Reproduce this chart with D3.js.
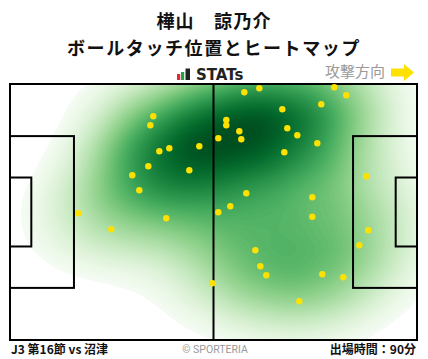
<!DOCTYPE html>
<html><head><meta charset="utf-8">
<script src="https://cdn.jsdelivr.net/npm/d3@7"></script>
<style>
html,body{margin:0;padding:0;background:#fff;}
svg{display:block;}
</style></head>
<body>
<script>
// ---- data (pitch metres, 105 x 68; x toward attack direction, y from top touchline) ----
const titleLines = ["樺山　諒乃介", "ボールタッチ位置とヒートマップ"];
const footerLeft = "J3 第16節 vs 沼津";
const footerRight = "出場時間：90分";
const touchX = [36.97,36.20,48.84,41.10,38.52,35.68,46.26,31.55,33.36,64.32,60.45,83.67,86.76,80.31,70.25,55.80,55.80,59.16,71.54,74.12,53.74,59.67,79.28,70.77,91.92,60.96,77.99,56.84,53.74,17.62,26.13,40.32,52.24,77.99,92.44,90.12,63.29,64.58,66.12,80.57,85.99,74.64];
const touchY = [8.58,10.97,16.55,17.08,17.88,21.86,22.92,24.25,28.24,1.14,2.20,0.88,3.00,5.39,6.72,9.56,10.97,12.56,11.77,13.63,14.42,14.69,15.75,18.14,24.52,29.03,30.10,32.49,34.08,34.35,38.60,35.67,52.94,35.25,38.86,42.85,44.17,48.42,50.81,50.55,51.35,57.72];

const W = 428, H = 359;
const F = {x0: 10, x1: 417, y0: 84, y1: 340};
const svg = d3.select("body").append("svg").attr("width", W).attr("height", H);

const xs = d3.scaleLinear().domain([0, 105]).range([F.x0, F.x1]);
const ys = d3.scaleLinear().domain([0, 68]).range([F.y0, F.y1]);
const pts = touchX.map((x, i) => ({x, y: touchY[i]}));

// ---- titles ----
const jp = "'Noto Sans CJK JP','Noto Sans',sans-serif";
svg.append("text").attr("x", W/2).attr("y", 28).attr("text-anchor", "middle").attr("letter-spacing", 1.2)
  .attr("font-family", jp).attr("font-weight", 700).attr("font-size", 18).attr("fill", "#111").text(titleLines[0]);
svg.append("text").attr("x", W/2).attr("y", 54.5).attr("text-anchor", "middle").attr("letter-spacing", 1.6)
  .attr("font-family", jp).attr("font-weight", 700).attr("font-size", 18).attr("fill", "#111").text(titleLines[1]);

// STATs logo
const logo = svg.append("g");
logo.append("rect").attr("x", 177).attr("y", 74).attr("width", 3.2).attr("height", 6).attr("fill", "#e8262b");
logo.append("rect").attr("x", 181).attr("y", 72).attr("width", 3.2).attr("height", 8).attr("fill", "#1fa347");
logo.append("rect").attr("x", 185.5).attr("y", 68.5).attr("width", 4.5).attr("height", 11.5).attr("fill", "#222");
logo.append("text").attr("x", 196).attr("y", 80).attr("font-family", "'DejaVu Sans',sans-serif")
  .attr("font-weight", 700).attr("font-size", 15).attr("fill", "#222").text("STATs");

// attack direction
svg.append("text").attr("x", 385).attr("y", 77).attr("text-anchor", "end")
  .attr("font-family", jp).attr("font-size", 15).attr("fill", "#9a9a9a").text("攻撃方向");
svg.append("path").attr("d", "M391,68.5 H404 V64 L414,72.5 L404,81 V76.5 H391 Z").attr("fill", "#ffe100");

// ---- heatmap ----
const defs = svg.append("defs");
defs.append("clipPath").attr("id", "fieldclip").append("rect")
  .attr("x", F.x0).attr("y", F.y0).attr("width", F.x1 - F.x0).attr("height", F.y1 - F.y0);

const pad = 100;
const bw = 44, ky = 44 / 35; // anisotropic kernel via y-stretch
const dens = d3.contourDensity()
  .x(d => xs(d.x) - F.x0 + pad)
  .y(d => (ys(d.y) - F.y0 + pad) * ky)
  .size([F.x1 - F.x0 + 2*pad, (F.y1 - F.y0 + 2*pad) * ky])
  .cellSize(2)
  .bandwidth(bw);
const probe = dens.thresholds(300)(pts);
const vmax = d3.max(probe.filter(c => c.coordinates.length), c => c.value);
const lo = vmax * 0.06;
const nLev = 80;
const th = d3.range(nLev).map(i => lo + (vmax - lo) * i / nLev);
const contours = dens.thresholds(th)(pts);
const tScale = d3.scalePow().exponent(0.75).domain([lo, vmax * 1.03]).range([0.02, 1]);
const color = v => d3.interpolateGreens(tScale(v));

svg.append("g").attr("clip-path", "url(#fieldclip)")
  .append("g").attr("transform", `translate(${F.x0 - pad},${F.y0 - pad}) scale(1,${1/ky})`)
  .selectAll("path").data(contours).join("path")
  .attr("d", d3.geoPath()).attr("fill", d => color(d.value)).attr("stroke", "none");

// ---- pitch lines ----
const lines = svg.append("g").attr("fill", "none").attr("stroke", "#000").attr("stroke-width", 2);
lines.append("rect").attr("x", F.x0).attr("y", F.y0).attr("width", F.x1 - F.x0).attr("height", F.y1 - F.y0);
lines.append("line").attr("x1", xs(52.5)).attr("x2", xs(52.5)).attr("y1", F.y0).attr("y2", F.y1);
const pbY0 = 34 - 20.16, pbY1 = 34 + 20.16, gaY0 = 34 - 9.16, gaY1 = 34 + 9.16;
lines.append("rect").attr("x", xs(0)).attr("y", ys(pbY0)).attr("width", xs(16.5) - xs(0)).attr("height", ys(pbY1) - ys(pbY0));
lines.append("rect").attr("x", xs(105 - 16.5)).attr("y", ys(pbY0)).attr("width", xs(105) - xs(105 - 16.5)).attr("height", ys(pbY1) - ys(pbY0));
lines.append("rect").attr("x", xs(0)).attr("y", ys(gaY0)).attr("width", xs(5.5) - xs(0)).attr("height", ys(gaY1) - ys(gaY0));
lines.append("rect").attr("x", xs(105 - 5.5)).attr("y", ys(gaY0)).attr("width", xs(105) - xs(105 - 5.5)).attr("height", ys(gaY1) - ys(gaY0));

// ---- touches ----
svg.append("g").selectAll("circle").data(pts).join("circle")
  .attr("cx", d => xs(d.x)).attr("cy", d => ys(d.y)).attr("r", 3.2).attr("fill", "#ffe100");

// ---- footer ----
svg.append("text").attr("x", 11).attr("y", 354).attr("font-family", jp).attr("font-weight", 700)
  .attr("font-size", 12).attr("fill", "#111").text(footerLeft);
svg.append("text").attr("x", 215).attr("y", 353).attr("text-anchor", "middle").attr("font-family", "'Roboto','Noto Sans',sans-serif")
  .attr("font-size", 10.5).attr("fill", "#999").text("© SPORTERIA");
svg.append("text").attr("x", 416).attr("y", 354).attr("text-anchor", "end").attr("font-family", jp).attr("font-weight", 700)
  .attr("font-size", 12).attr("fill", "#111").text(footerRight);
</script>
</body></html>
